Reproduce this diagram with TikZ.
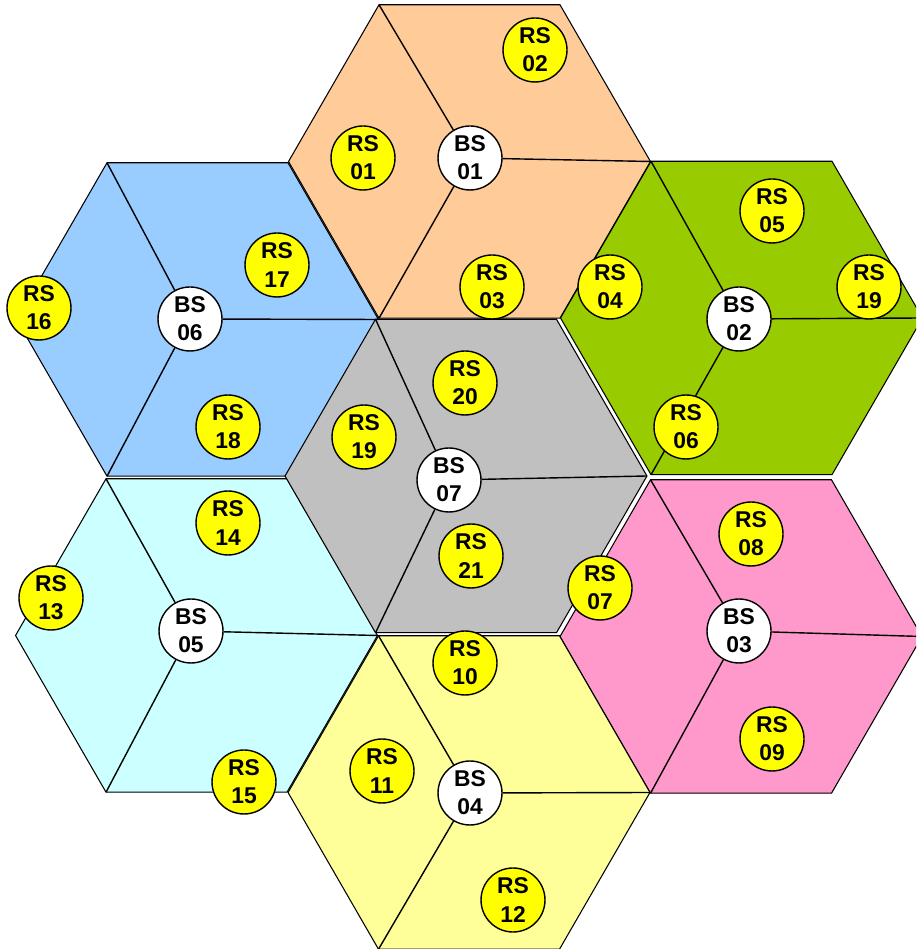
\documentclass[tikz,border=0pt]{standalone}
\usepackage{fontspec}
\newfontfamily\cellfont{Liberation Sans}
\usetikzlibrary{shapes.geometric}
\definecolor{cellorange}{HTML}{FFCC99}
\definecolor{cellgreen}{HTML}{99CC00}
\definecolor{cellpink}{HTML}{FF99CC}
\definecolor{cellyellow}{HTML}{FFFF99}
\definecolor{cellcyan}{HTML}{CCFFFF}
\definecolor{cellblue}{HTML}{99CCFF}
\definecolor{cellgray}{HTML}{C0C0C0}
\definecolor{relayyellow}{HTML}{FFFF00}

\begin{document}
\begin{tikzpicture}[x=0.02cm, y=0.02cm,
    cell/.style={regular polygon, regular polygon sides=6,
                 minimum size=7.24cm, inner sep=0pt, outer sep=0pt,
                 draw=black, line width=0.6pt},
    station/.style={circle, draw=black, line width=0.8pt,
                    minimum size=1.28cm, inner sep=0pt, align=center,
                    font=\cellfont\bfseries\fontsize{13}{16}\selectfont},
    bs/.style={station, fill=white},
    rs/.style={station, fill=relayyellow},
    spoke/.style={draw=black, line width=0.8pt},
  ]
  \useasboundingbox (0,0) rectangle (916,949);
  \clip (0,0) rectangle (916,949);

  % cells
  \node[cell, fill=cellorange] (h1) at (469.5,787.5) {};
  \node[cell, fill=cellgreen]  (h2) at (741.5,631)   {};
  \node[cell, fill=cellpink]   (h3) at (741,312.5)   {};
  \node[cell, fill=cellyellow] (h4) at (469,156.5)   {};
  \node[cell, fill=cellcyan]   (h5) at (196.5,313.5) {};
  \node[cell, fill=cellblue]   (h6) at (197.5,629.5) {};
  \node[cell, fill=cellgray]   (h7) at (466,473)     {};

  % base stations
  \node[bs] (bs1) at (470,791) {BS\\01};
  \node[bs] (bs2) at (739,630) {BS\\02};
  \node[bs] (bs3) at (739,318) {BS\\03};
  \node[bs] (bs4) at (470,156) {BS\\04};
  \node[bs] (bs5) at (191,318) {BS\\05};
  \node[bs] (bs6) at (190,630) {BS\\06};
  \node[bs] (bs7) at (449,469) {BS\\07};

  % sector borders
  \foreach \i in {1,...,7}
    \foreach \c in {2,4,6}
      \draw[spoke] (bs\i) -- (h\i.corner \c);

  % relay stations
  \node[rs] (rs01) at (363,791) {RS\\01};
  \node[rs] (rs02) at (535,899) {RS\\02};
  \node[rs] (rs03) at (492,662) {RS\\03};
  \node[rs] (rs04) at (610,662) {RS\\04};
  \node[rs] (rs05) at (772,738) {RS\\05};
  \node[rs] (rs06) at (686,522) {RS\\06};
  \node[rs] (rs07) at (600,361) {RS\\07};
  \node[rs] (rs08) at (751,415) {RS\\08};
  \node[rs] (rs09) at (772,210) {RS\\09};
  \node[rs] (rs10) at (465,286) {RS\\10};
  \node[rs] (rs11) at (382,178) {RS\\11};
  \node[rs] (rs12) at (513,49)  {RS\\12};
  \node[rs] (rs13) at (51,351)  {RS\\13};
  \node[rs] (rs14) at (228,426) {RS\\14};
  \node[rs] (rs15) at (244,167) {RS\\15};
  \node[rs] (rs16) at (39,641)  {RS\\16};
  \node[rs] (rs17) at (277,684) {RS\\17};
  \node[rs] (rs18) at (228,522) {RS\\18};
  \node[rs] (rs19a) at (869,662) {RS\\19};
  \node[rs] (rs19b) at (364,512) {RS\\19};
  \node[rs] (rs20) at (465,566) {RS\\20};
  \node[rs] (rs21) at (471,393) {RS\\21};
\end{tikzpicture}
\end{document}
